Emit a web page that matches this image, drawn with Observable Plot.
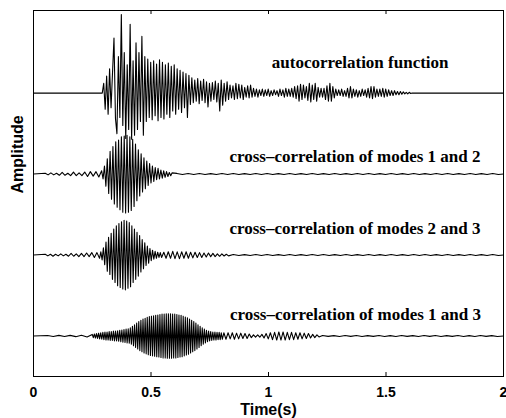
<!DOCTYPE html>
<html>
<head>
<meta charset="utf-8">
<script src="https://cdn.jsdelivr.net/npm/d3@7"></script>
<script src="https://cdn.jsdelivr.net/npm/@observablehq/plot@0.6"></script>
<style>
  html, body { margin: 0; padding: 0; background: #fff; }
</style>
</head>
<body>
<div id="chart"></div>
<script>
// ---- data -------------------------------------------------------------
const timeSpan = [0, 2];                 // record length (s)
const xTicks = [0, 0.5, 1, 1.5, 2];
const xLabel = "Time(s)";
const yLabel = "Amplitude";
const traceNames = [
  "autocorrelation function",
  "cross–correlation of modes 1 and 2",
  "cross–correlation of modes 2 and 3",
  "cross–correlation of modes 1 and 3"
];

// autocorrelation function: successive extrema, uniformly spaced
const acfStart = 0.2925, acfStep = 0.00625;
const acfValues = [
  0,0.12,-0.20,0.21,-0.26,0.30,-0.18,0.25,0.68,-0.31,
  -0.50,0.45,-0.30,0.97,-0.40,0.50,-0.56,0.35,-0.45,0.85,
  -0.57,0.40,-0.52,0.62,-0.45,0.50,-0.35,0.70,-0.52,0.45,
  -0.35,0.42,-0.30,0.38,-0.33,0.40,-0.28,0.36,-0.34,0.41,
  -0.30,0.38,-0.32,0.35,-0.26,0.37,-0.30,0.33,-0.22,0.35,
  -0.26,0.30,-0.20,0.28,-0.24,0.26,-0.18,0.24,-0.30,0.22,
  -0.14,0.19,-0.12,0.16,-0.10,0.18,-0.13,0.15,-0.09,0.17,
  -0.12,0.14,-0.17,0.12,-0.10,0.13,-0.08,0.15,-0.11,0.12,
  -0.22,0.16,-0.15,0.12,-0.10,0.14,-0.08,0.10,-0.06,0.09,
  -0.08,0.12,-0.07,0.11,-0.06,0.10,-0.08,0.07,-0.05,0.09,
  -0.06,0.10,-0.05,0.06,-0.04,0.05,-0.05,0.04,-0.03,0.05,
  -0.04,0.04,-0.03,0.05,-0.04,0.03,-0.03,0.04,-0.02,0.03,
  -0.04,0.05,-0.03,0.04,-0.05,0.06,-0.04,0.05,-0.04,0.06,
  -0.05,0.08,-0.07,0.09,-0.10,0.11,-0.08,0.10,-0.06,0.08,
  -0.09,0.12,-0.11,0.10,-0.08,0.12,-0.10,0.07,-0.05,0.06,
  -0.05,0.06,-0.08,0.09,-0.10,0.12,-0.10,0.08,-0.06,0.05,
  -0.03,0.04,-0.03,0.05,-0.04,0.03,-0.04,0.06,-0.06,0.08,
  -0.06,0.05,-0.04,0.04,-0.05,0.03,-0.04,0.05,-0.03,0.04,
  -0.05,0.06,-0.06,0.08,-0.07,0.08,-0.05,0.05,-0.04,0.05,
  -0.04,0.06,-0.05,0.05,-0.04,0.04,-0.03,0.03,-0.03,0.03,
  -0.02,0.02,-0.02,0.02,-0.015,0.015,-0.01,0.01,-0.01,0.01,
  -0.005,0
];

// cross-correlation of modes 1 and 2
const c12LeadStart = 0.05, c12LeadStep = 0.012;
const c12Lead = [
  0.01,-0.01,0.015,-0.01,0.01,-0.015,0.02,-0.015,0.01,-0.02,
  0.025,-0.02,0.015,-0.02,0.025,-0.03,0.03,-0.025,0.03,-0.035,0.04
];
const c12Start = 0.296, c12Step = 0.006;
const c12Values = [
  -0.06,0.10,-0.15,0.19,-0.24,0.28,-0.31,0.34,-0.37,0.40,
  -0.41,0.42,-0.44,0.46,-0.47,0.47,-0.48,0.48,-0.47,0.46,
  -0.45,0.43,-0.40,0.37,-0.33,0.30,-0.27,0.25,-0.22,0.20,
  -0.18,0.16,-0.14,0.13,-0.11,0.10,-0.09,0.08,-0.07,0.07,
  -0.06,0.05,-0.05,0.04,-0.04,0.03,-0.03,0.02,-0.02,0.015
];
const c12TailStart = 0.61, c12TailStep = 0.024;
const c12Tail = [
  0.008,-0.006,0.006,-0.005,0.006,-0.006,0.005,-0.006,0.006,-0.005,
  0.006,-0.005,0.005,-0.006,0.006,-0.005,0.006,-0.006,0.005,-0.005,
  0.006,-0.006,0.005,-0.005,0.006,-0.006,0.005,-0.006,0.006,-0.005,
  0.005,-0.006,0.006,-0.005,0.006,-0.006,0.005,-0.005,0.006,-0.006,
  0.005,-0.006,0.006,-0.005,0.005,-0.006,0.006,-0.005,0.006,-0.006,
  0.005,-0.005,0.006,-0.006,0.005,-0.006,0.006,-0.005
];

// cross-correlation of modes 2 and 3
const c23LeadStart = 0.05, c23LeadStep = 0.011;
const c23Lead = [
  0.01,-0.01,0.01,-0.015,0.01,-0.01,0.015,-0.01,0.01,-0.015,
  0.02,-0.015,0.015,-0.02,0.02,-0.02,0.025,-0.02,0.03,-0.03,
  0.03,-0.04
];
const c23Start = 0.2865, c23Step = 0.0055;
const c23Values = [
  0.04,-0.06,0.09,-0.12,0.16,-0.20,0.22,-0.24,0.27,-0.30,
  0.32,-0.34,0.36,-0.38,0.39,-0.40,0.41,-0.42,0.43,-0.43,
  0.42,-0.41,0.40,-0.39,0.36,-0.34,0.32,-0.30,0.28,-0.26,
  0.24,-0.21,0.19,-0.17,0.15,-0.13,0.11,-0.10,0.08,-0.07,
  0.06,-0.05,0.045,-0.04,0.035,-0.03,0.03
];
const c23RingStart = 0.545, c23RingStep = 0.0095;
const c23Ring = [
  -0.03,0.035,-0.04,0.04,-0.04,0.045,-0.045,0.04,-0.045,0.04,
  -0.04,0.04,-0.04,0.035,-0.035,0.035,-0.03,0.03,-0.03,0.025,
  -0.025,0.025,-0.02,0.02,-0.02,0.015,-0.015,0.015,-0.012,0.01,-0.01
];
const c23TailStart = 0.85, c23TailStep = 0.024;
const c23Tail = [
  0.006,-0.006,0.005,-0.006,0.006,-0.005,0.006,-0.006,0.005,-0.005,
  0.006,-0.005,0.005,-0.006,0.006,-0.005,0.006,-0.006,0.005,-0.005,
  0.006,-0.006,0.005,-0.005,0.006,-0.006,0.005,-0.006,0.006,-0.005,
  0.005,-0.006,0.006,-0.005,0.006,-0.006,0.005,-0.005,0.006,-0.006,
  0.005,-0.006,0.006,-0.005,0.005,-0.006,0.006,-0.005
];

// cross-correlation of modes 1 and 3
const c13HeadStart = 0.06, c13HeadStep = 0.024;
const c13Head = [0.006,-0.006,0.008,-0.006,0.008,-0.008,0.01,-0.012];
const c13Start = 0.25, c13Step = 0.0045;
const c13Values = [
  0.02,-0.02,0.025,-0.025,0.03,-0.03,0.035,-0.035,0.04,-0.04,
  0.045,-0.045,0.05,-0.05,0.05,-0.05,0.055,-0.055,0.055,-0.055,
  0.06,-0.06,0.06,-0.06,0.065,-0.065,0.07,-0.07,0.075,-0.075,
  0.08,-0.08,0.085,-0.085,0.09,-0.09,0.10,-0.10,0.12,-0.12,
  0.14,-0.14,0.16,-0.16,0.18,-0.18,0.195,-0.195,0.21,-0.21,
  0.22,-0.22,0.23,-0.23,0.24,-0.24,0.245,-0.245,0.25,-0.25,
  0.255,-0.255,0.26,-0.26,0.265,-0.265,0.27,-0.27,0.27,-0.27,
  0.275,-0.275,0.275,-0.275,0.275,-0.275,0.27,-0.27,0.27,-0.27,
  0.265,-0.265,0.26,-0.26,0.255,-0.255,0.245,-0.245,0.235,-0.235,
  0.225,-0.225,0.21,-0.21,0.195,-0.195,0.18,-0.18,0.16,-0.16,
  0.14,-0.14,0.12,-0.12,0.10,-0.10,0.085,-0.085,0.07,-0.07,
  0.06,-0.06,0.055,-0.055,0.05,-0.05,0.05,-0.05,0.045,-0.045,
  0.045,-0.045,0.04,-0.04
];
const c13RingStart = 0.81, c13RingStep = 0.009;
const c13Ring = [
  0.04,-0.04,0.04,-0.035,0.04,-0.04,0.035,-0.035,0.035,-0.03,0.03,-0.03,0.025,
  -0.02,0.015,-0.015,0.015,-0.015,0.02,-0.025,
  0.03,-0.035,0.04,-0.045,0.045,-0.05,0.05,-0.05,0.05,-0.05,
  0.045,-0.045,0.045,-0.045,0.04,-0.04,0.04,-0.035,0.035,-0.03,
  0.03,-0.025,0.02,-0.02,0.015,-0.012
];
const c13TailStart = 1.23, c13TailStep = 0.024;
const c13Tail = [
  0.006,-0.005,0.005,-0.006,0.006,-0.005,0.006,-0.006,0.005,-0.005,
  0.006,-0.006,0.005,-0.006,0.006,-0.005,0.005,-0.006,0.006,-0.005,
  0.006,-0.006,0.005,-0.005,0.006,-0.006,0.005,-0.006,0.006,-0.005,
  0.005,-0.006
];

// ---- assemble traces --------------------------------------------------
const samples = (start, step, values) => values.map((v, i) => ({t: start + i * step, v}));

const traceSegments = [
  [samples(acfStart, acfStep, acfValues)],
  [samples(c12LeadStart, c12LeadStep, c12Lead), samples(c12Start, c12Step, c12Values),
   samples(c12TailStart, c12TailStep, c12Tail)],
  [samples(c23LeadStart, c23LeadStep, c23Lead), samples(c23Start, c23Step, c23Values),
   samples(c23RingStart, c23RingStep, c23Ring), samples(c23TailStart, c23TailStep, c23Tail)],
  [samples(c13HeadStart, c13HeadStep, c13Head), samples(c13Start, c13Step, c13Values),
   samples(c13RingStart, c13RingStep, c13Ring), samples(c13TailStart, c13TailStep, c13Tail)]
];

// each trace is drawn around its own baseline, stacked from the top
const baselines = [4, 3, 2, 1];
const rows = traceSegments.flatMap((segs, i) => {
  const pts = [{t: timeSpan[0], v: 0}, ...segs.flat(), {t: timeSpan[1], v: 0}];
  return pts.map(p => ({name: traceNames[i], t: p.t, y: baselines[i] + p.v}));
});

const labelX = [1.39, 1.368, 1.368, 1.37];
const labelY = [4.375, 3.215, 2.326, 1.264];
const innerTicks = xTicks.slice(1, -1);
const frameH = 366;

const chart = Plot.plot({
  width: 506,
  height: 418,
  marginLeft: 33,
  marginRight: 3,
  marginTop: 10,
  marginBottom: 42,
  x: {domain: timeSpan},
  y: {domain: [0.5, 5.02], axis: null},
  style: {fontFamily: "'Liberation Sans', Arial, sans-serif", background: "#fff", color: "#000"},
  marks: [
    Plot.line(rows, {x: "t", y: "y", z: "name", stroke: "#000", strokeWidth: 1.1}),
    Plot.frame({stroke: "#000", strokeWidth: 1}),
    Plot.ruleX(innerTicks, {stroke: "#000", insetTop: frameH - 4}),
    Plot.ruleX(innerTicks, {stroke: "#000", insetBottom: frameH - 4}),
    Plot.axisX(xTicks, {
      tickSize: 0, tickPadding: 11, fontSize: 14, fontWeight: "bold",
      tickFormat: d => String(d), label: null
    }),
    Plot.text([xLabel], {frameAnchor: "bottom", lineAnchor: "top", dy: 27,
      fontSize: 16, fontWeight: "bold"}),
    Plot.text([yLabel], {frameAnchor: "left", rotate: -90, dx: -16,
      fontSize: 16, fontWeight: "bold"}),
    Plot.text(traceNames, {
      x: (d, i) => labelX[i], y: (d, i) => labelY[i],
      fontFamily: "'Liberation Serif', 'Times New Roman', serif",
      fontWeight: "bold", fontSize: 17, textAnchor: "middle"
    })
  ]
});
document.getElementById("chart").appendChild(chart);
</script>
</body>
</html>
